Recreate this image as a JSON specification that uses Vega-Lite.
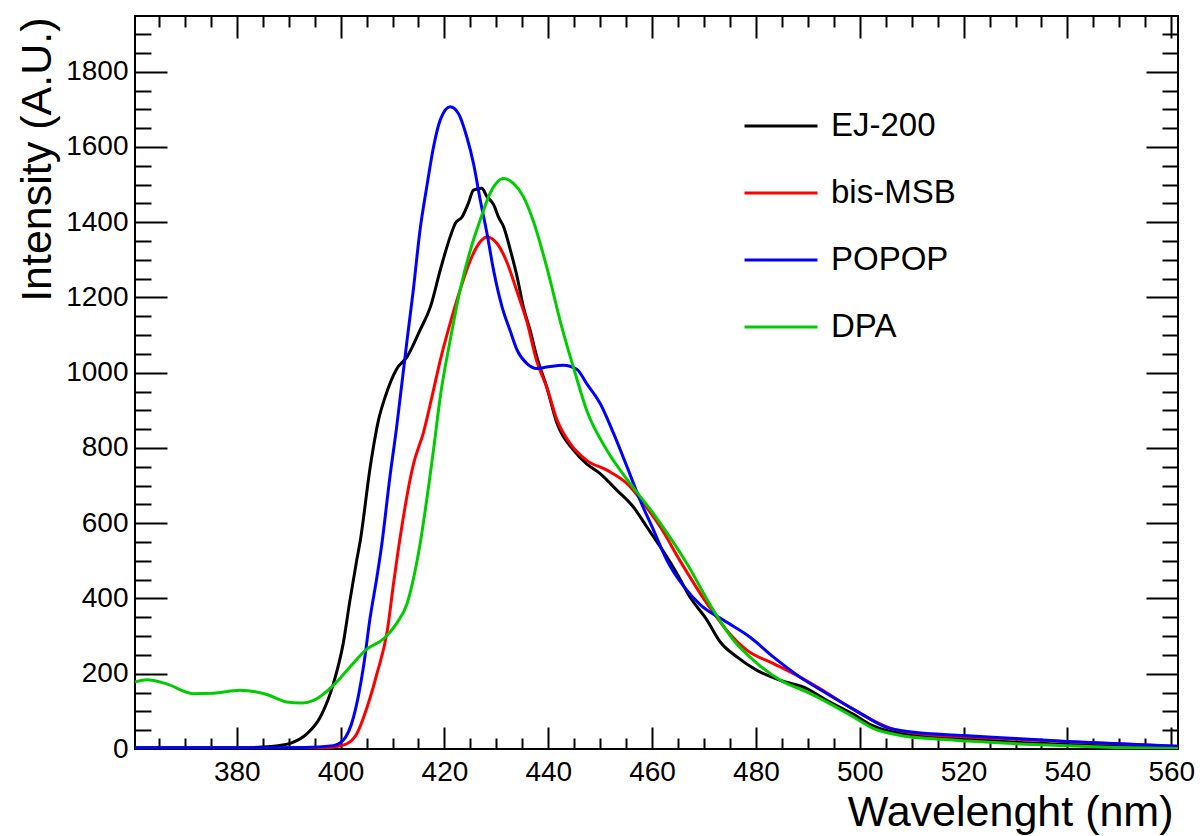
{
  "$schema": "https://vega.github.io/schema/vega-lite/v6.json",
  "width": 1043,
  "height": 733,
  "autosize": {"type": "none"},
  "padding": {"left": 135, "top": 16, "right": 22, "bottom": 87},
  "background": "white",
  "config": {
    "font": "Liberation Sans",
    "view": {"stroke": "black", "strokeWidth": 2},
    "axis": {"domain": false, "grid": false, "labelFont": "Liberation Sans", "titleFont": "Liberation Sans", "labelColor": "black", "titleColor": "black", "tickColor": "black", "titleFontWeight": "normal"},
    "legend": {"labelFont": "Liberation Sans"}
  },
  "datasets": {
    "spectra": [
      {"sample": "EJ-200", "wavelength": 360.4, "intensity": 3},
      {"sample": "EJ-200", "wavelength": 370, "intensity": 3},
      {"sample": "EJ-200", "wavelength": 380, "intensity": 3},
      {"sample": "EJ-200", "wavelength": 385, "intensity": 5},
      {"sample": "EJ-200", "wavelength": 388, "intensity": 9},
      {"sample": "EJ-200", "wavelength": 390.3, "intensity": 15},
      {"sample": "EJ-200", "wavelength": 393.5, "intensity": 40},
      {"sample": "EJ-200", "wavelength": 396.1, "intensity": 85},
      {"sample": "EJ-200", "wavelength": 398.6, "intensity": 173},
      {"sample": "EJ-200", "wavelength": 400.5, "intensity": 280},
      {"sample": "EJ-200", "wavelength": 401.8, "intensity": 395},
      {"sample": "EJ-200", "wavelength": 403.1, "intensity": 501},
      {"sample": "EJ-200", "wavelength": 403.8, "intensity": 554},
      {"sample": "EJ-200", "wavelength": 405.7, "intensity": 749},
      {"sample": "EJ-200", "wavelength": 407.3, "intensity": 874},
      {"sample": "EJ-200", "wavelength": 408.6, "intensity": 936},
      {"sample": "EJ-200", "wavelength": 410.8, "intensity": 1010},
      {"sample": "EJ-200", "wavelength": 412.8, "intensity": 1042},
      {"sample": "EJ-200", "wavelength": 415.3, "intensity": 1113},
      {"sample": "EJ-200", "wavelength": 417.3, "intensity": 1175},
      {"sample": "EJ-200", "wavelength": 419.2, "intensity": 1273},
      {"sample": "EJ-200", "wavelength": 421.1, "intensity": 1361},
      {"sample": "EJ-200", "wavelength": 422.1, "intensity": 1397},
      {"sample": "EJ-200", "wavelength": 423.4, "intensity": 1414},
      {"sample": "EJ-200", "wavelength": 424.6, "intensity": 1450},
      {"sample": "EJ-200", "wavelength": 425.6, "intensity": 1485},
      {"sample": "EJ-200", "wavelength": 427.2, "intensity": 1490},
      {"sample": "EJ-200", "wavelength": 428.2, "intensity": 1468},
      {"sample": "EJ-200", "wavelength": 429.5, "intensity": 1446},
      {"sample": "EJ-200", "wavelength": 430.4, "intensity": 1414},
      {"sample": "EJ-200", "wavelength": 431.4, "intensity": 1388},
      {"sample": "EJ-200", "wavelength": 432.7, "intensity": 1326},
      {"sample": "EJ-200", "wavelength": 434.0, "intensity": 1255},
      {"sample": "EJ-200", "wavelength": 435.2, "intensity": 1175},
      {"sample": "EJ-200", "wavelength": 436.5, "intensity": 1113},
      {"sample": "EJ-200", "wavelength": 437.8, "intensity": 1042},
      {"sample": "EJ-200", "wavelength": 439.7, "intensity": 962},
      {"sample": "EJ-200", "wavelength": 441.7, "intensity": 865},
      {"sample": "EJ-200", "wavelength": 444.9, "intensity": 794},
      {"sample": "EJ-200", "wavelength": 447.4, "intensity": 758},
      {"sample": "EJ-200", "wavelength": 450.0, "intensity": 732},
      {"sample": "EJ-200", "wavelength": 453.2, "intensity": 688},
      {"sample": "EJ-200", "wavelength": 456.4, "intensity": 643},
      {"sample": "EJ-200", "wavelength": 459.0, "intensity": 590},
      {"sample": "EJ-200", "wavelength": 461.6, "intensity": 537},
      {"sample": "EJ-200", "wavelength": 464.8, "intensity": 466},
      {"sample": "EJ-200", "wavelength": 467.3, "intensity": 404},
      {"sample": "EJ-200", "wavelength": 470.6, "intensity": 342},
      {"sample": "EJ-200", "wavelength": 473.1, "intensity": 285},
      {"sample": "EJ-200", "wavelength": 476.4, "intensity": 244},
      {"sample": "EJ-200", "wavelength": 480.2, "intensity": 209},
      {"sample": "EJ-200", "wavelength": 484.8, "intensity": 182},
      {"sample": "EJ-200", "wavelength": 489.9, "intensity": 160},
      {"sample": "EJ-200", "wavelength": 493.7, "intensity": 129},
      {"sample": "EJ-200", "wavelength": 498.8, "intensity": 92},
      {"sample": "EJ-200", "wavelength": 502, "intensity": 65},
      {"sample": "EJ-200", "wavelength": 505, "intensity": 50},
      {"sample": "EJ-200", "wavelength": 510, "intensity": 38},
      {"sample": "EJ-200", "wavelength": 520, "intensity": 27},
      {"sample": "EJ-200", "wavelength": 530, "intensity": 18},
      {"sample": "EJ-200", "wavelength": 540, "intensity": 12},
      {"sample": "EJ-200", "wavelength": 550, "intensity": 7},
      {"sample": "EJ-200", "wavelength": 561.3, "intensity": 3},

      {"sample": "bis-MSB", "wavelength": 360.4, "intensity": 0},
      {"sample": "bis-MSB", "wavelength": 380, "intensity": 0},
      {"sample": "bis-MSB", "wavelength": 395, "intensity": 1},
      {"sample": "bis-MSB", "wavelength": 398.6, "intensity": 5},
      {"sample": "bis-MSB", "wavelength": 401.2, "intensity": 14},
      {"sample": "bis-MSB", "wavelength": 403.1, "intensity": 40},
      {"sample": "bis-MSB", "wavelength": 405.1, "intensity": 111},
      {"sample": "bis-MSB", "wavelength": 407.0, "intensity": 200},
      {"sample": "bis-MSB", "wavelength": 409.0, "intensity": 315},
      {"sample": "bis-MSB", "wavelength": 410.2, "intensity": 440},
      {"sample": "bis-MSB", "wavelength": 411.5, "intensity": 565},
      {"sample": "bis-MSB", "wavelength": 414.0, "intensity": 755},
      {"sample": "bis-MSB", "wavelength": 416.0, "intensity": 843},
      {"sample": "bis-MSB", "wavelength": 417.6, "intensity": 936},
      {"sample": "bis-MSB", "wavelength": 419.2, "intensity": 1033},
      {"sample": "bis-MSB", "wavelength": 421.1, "intensity": 1131},
      {"sample": "bis-MSB", "wavelength": 423.0, "intensity": 1219},
      {"sample": "bis-MSB", "wavelength": 425.0, "intensity": 1299},
      {"sample": "bis-MSB", "wavelength": 426.9, "intensity": 1348},
      {"sample": "bis-MSB", "wavelength": 428.2, "intensity": 1361},
      {"sample": "bis-MSB", "wavelength": 430.1, "intensity": 1344},
      {"sample": "bis-MSB", "wavelength": 432.0, "intensity": 1295},
      {"sample": "bis-MSB", "wavelength": 434.0, "intensity": 1215},
      {"sample": "bis-MSB", "wavelength": 435.9, "intensity": 1135},
      {"sample": "bis-MSB", "wavelength": 437.8, "intensity": 1030},
      {"sample": "bis-MSB", "wavelength": 439.7, "intensity": 962},
      {"sample": "bis-MSB", "wavelength": 441.7, "intensity": 874},
      {"sample": "bis-MSB", "wavelength": 444.2, "intensity": 812},
      {"sample": "bis-MSB", "wavelength": 447.4, "intensity": 767},
      {"sample": "bis-MSB", "wavelength": 451.3, "intensity": 741},
      {"sample": "bis-MSB", "wavelength": 455.2, "intensity": 705},
      {"sample": "bis-MSB", "wavelength": 458.4, "intensity": 652},
      {"sample": "bis-MSB", "wavelength": 461.6, "intensity": 590},
      {"sample": "bis-MSB", "wavelength": 465.4, "intensity": 500},
      {"sample": "bis-MSB", "wavelength": 470.6, "intensity": 386},
      {"sample": "bis-MSB", "wavelength": 474.4, "intensity": 315},
      {"sample": "bis-MSB", "wavelength": 478.3, "intensity": 262},
      {"sample": "bis-MSB", "wavelength": 483.4, "intensity": 227},
      {"sample": "bis-MSB", "wavelength": 488.5, "intensity": 191},
      {"sample": "bis-MSB", "wavelength": 492.4, "intensity": 160},
      {"sample": "bis-MSB", "wavelength": 497.6, "intensity": 115},
      {"sample": "bis-MSB", "wavelength": 502.7, "intensity": 75},
      {"sample": "bis-MSB", "wavelength": 506.0, "intensity": 55},
      {"sample": "bis-MSB", "wavelength": 511.0, "intensity": 41},
      {"sample": "bis-MSB", "wavelength": 520.7, "intensity": 32},
      {"sample": "bis-MSB", "wavelength": 533.5, "intensity": 24},
      {"sample": "bis-MSB", "wavelength": 540, "intensity": 19},
      {"sample": "bis-MSB", "wavelength": 549.6, "intensity": 14},
      {"sample": "bis-MSB", "wavelength": 561.3, "intensity": 7},

      {"sample": "POPOP", "wavelength": 360.4, "intensity": 3},
      {"sample": "POPOP", "wavelength": 380, "intensity": 3},
      {"sample": "POPOP", "wavelength": 393, "intensity": 4},
      {"sample": "POPOP", "wavelength": 398.6, "intensity": 9},
      {"sample": "POPOP", "wavelength": 400.5, "intensity": 23},
      {"sample": "POPOP", "wavelength": 402.5, "intensity": 85},
      {"sample": "POPOP", "wavelength": 404.4, "intensity": 218},
      {"sample": "POPOP", "wavelength": 405.7, "intensity": 350},
      {"sample": "POPOP", "wavelength": 407.0, "intensity": 457},
      {"sample": "POPOP", "wavelength": 407.9, "intensity": 540},
      {"sample": "POPOP", "wavelength": 409.5, "intensity": 723},
      {"sample": "POPOP", "wavelength": 410.8, "intensity": 856},
      {"sample": "POPOP", "wavelength": 411.5, "intensity": 936},
      {"sample": "POPOP", "wavelength": 412.8, "intensity": 1086},
      {"sample": "POPOP", "wavelength": 414.0, "intensity": 1219},
      {"sample": "POPOP", "wavelength": 415.3, "intensity": 1379},
      {"sample": "POPOP", "wavelength": 416.6, "intensity": 1494},
      {"sample": "POPOP", "wavelength": 417.9, "intensity": 1600},
      {"sample": "POPOP", "wavelength": 419.2, "intensity": 1672},
      {"sample": "POPOP", "wavelength": 421.1, "intensity": 1707},
      {"sample": "POPOP", "wavelength": 422.7, "intensity": 1689},
      {"sample": "POPOP", "wavelength": 424.3, "intensity": 1627},
      {"sample": "POPOP", "wavelength": 425.6, "intensity": 1556},
      {"sample": "POPOP", "wavelength": 426.9, "intensity": 1459},
      {"sample": "POPOP", "wavelength": 428.2, "intensity": 1370},
      {"sample": "POPOP", "wavelength": 429.5, "intensity": 1270},
      {"sample": "POPOP", "wavelength": 431.1, "intensity": 1175},
      {"sample": "POPOP", "wavelength": 432.7, "intensity": 1110},
      {"sample": "POPOP", "wavelength": 434.0, "intensity": 1060},
      {"sample": "POPOP", "wavelength": 435.9, "intensity": 1024},
      {"sample": "POPOP", "wavelength": 437.8, "intensity": 1011},
      {"sample": "POPOP", "wavelength": 439.7, "intensity": 1015},
      {"sample": "POPOP", "wavelength": 442.9, "intensity": 1020},
      {"sample": "POPOP", "wavelength": 445.5, "intensity": 1009},
      {"sample": "POPOP", "wavelength": 447.4, "intensity": 971},
      {"sample": "POPOP", "wavelength": 450.0, "intensity": 918},
      {"sample": "POPOP", "wavelength": 452.6, "intensity": 838},
      {"sample": "POPOP", "wavelength": 455.2, "intensity": 749},
      {"sample": "POPOP", "wavelength": 457.7, "intensity": 661},
      {"sample": "POPOP", "wavelength": 460.3, "intensity": 581},
      {"sample": "POPOP", "wavelength": 462.9, "intensity": 500},
      {"sample": "POPOP", "wavelength": 466.1, "intensity": 432},
      {"sample": "POPOP", "wavelength": 469.3, "intensity": 383},
      {"sample": "POPOP", "wavelength": 473.8, "intensity": 342},
      {"sample": "POPOP", "wavelength": 478.9, "intensity": 297},
      {"sample": "POPOP", "wavelength": 483.4, "intensity": 244},
      {"sample": "POPOP", "wavelength": 488.5, "intensity": 191},
      {"sample": "POPOP", "wavelength": 493.7, "intensity": 147},
      {"sample": "POPOP", "wavelength": 499.5, "intensity": 100},
      {"sample": "POPOP", "wavelength": 505, "intensity": 58},
      {"sample": "POPOP", "wavelength": 510, "intensity": 45},
      {"sample": "POPOP", "wavelength": 520, "intensity": 36},
      {"sample": "POPOP", "wavelength": 530, "intensity": 28},
      {"sample": "POPOP", "wavelength": 540, "intensity": 20},
      {"sample": "POPOP", "wavelength": 550, "intensity": 14},
      {"sample": "POPOP", "wavelength": 561.3, "intensity": 7},

      {"sample": "DPA", "wavelength": 360.4, "intensity": 178},
      {"sample": "DPA", "wavelength": 362.7, "intensity": 184},
      {"sample": "DPA", "wavelength": 366.5, "intensity": 173},
      {"sample": "DPA", "wavelength": 371.6, "intensity": 147},
      {"sample": "DPA", "wavelength": 375.5, "intensity": 148},
      {"sample": "DPA", "wavelength": 380.6, "intensity": 156},
      {"sample": "DPA", "wavelength": 385.8, "intensity": 145},
      {"sample": "DPA", "wavelength": 389.6, "intensity": 125},
      {"sample": "DPA", "wavelength": 392.5, "intensity": 122},
      {"sample": "DPA", "wavelength": 394.8, "intensity": 129},
      {"sample": "DPA", "wavelength": 398.6, "intensity": 169},
      {"sample": "DPA", "wavelength": 401.8, "intensity": 218},
      {"sample": "DPA", "wavelength": 405.1, "intensity": 266},
      {"sample": "DPA", "wavelength": 408.3, "intensity": 293},
      {"sample": "DPA", "wavelength": 410.8, "intensity": 334},
      {"sample": "DPA", "wavelength": 412.8, "intensity": 386},
      {"sample": "DPA", "wavelength": 415.0, "intensity": 520},
      {"sample": "DPA", "wavelength": 417.9, "intensity": 795},
      {"sample": "DPA", "wavelength": 419.2, "intensity": 936},
      {"sample": "DPA", "wavelength": 421.1, "intensity": 1086},
      {"sample": "DPA", "wavelength": 423.0, "intensity": 1219},
      {"sample": "DPA", "wavelength": 425.0, "intensity": 1326},
      {"sample": "DPA", "wavelength": 426.9, "intensity": 1406},
      {"sample": "DPA", "wavelength": 428.8, "intensity": 1477},
      {"sample": "DPA", "wavelength": 431.4, "intensity": 1516},
      {"sample": "DPA", "wavelength": 433.3, "intensity": 1503},
      {"sample": "DPA", "wavelength": 435.2, "intensity": 1468},
      {"sample": "DPA", "wavelength": 437.2, "intensity": 1400},
      {"sample": "DPA", "wavelength": 439.7, "intensity": 1281},
      {"sample": "DPA", "wavelength": 442.6, "intensity": 1122},
      {"sample": "DPA", "wavelength": 445.2, "intensity": 998},
      {"sample": "DPA", "wavelength": 447.4, "intensity": 900},
      {"sample": "DPA", "wavelength": 451.3, "intensity": 794},
      {"sample": "DPA", "wavelength": 455.8, "intensity": 705},
      {"sample": "DPA", "wavelength": 460.3, "intensity": 625},
      {"sample": "DPA", "wavelength": 464.3, "intensity": 545},
      {"sample": "DPA", "wavelength": 466.7, "intensity": 493},
      {"sample": "DPA", "wavelength": 471.8, "intensity": 369},
      {"sample": "DPA", "wavelength": 475.7, "intensity": 289},
      {"sample": "DPA", "wavelength": 479.6, "intensity": 235},
      {"sample": "DPA", "wavelength": 484.8, "intensity": 182},
      {"sample": "DPA", "wavelength": 489.9, "intensity": 151},
      {"sample": "DPA", "wavelength": 494.3, "intensity": 120},
      {"sample": "DPA", "wavelength": 498.8, "intensity": 85},
      {"sample": "DPA", "wavelength": 502.7, "intensity": 54},
      {"sample": "DPA", "wavelength": 507.8, "intensity": 36},
      {"sample": "DPA", "wavelength": 514.2, "intensity": 27},
      {"sample": "DPA", "wavelength": 520.7, "intensity": 21},
      {"sample": "DPA", "wavelength": 533.5, "intensity": 12},
      {"sample": "DPA", "wavelength": 546.4, "intensity": 5},
      {"sample": "DPA", "wavelength": 561.3, "intensity": 1}
    ],
    "anchor": [{"wavelength": 400, "intensity": 0}]
  },
  "resolve": {"axis": {"x": "independent", "y": "independent"}},
  "layer": [
    {
      "data": {"name": "spectra"},
      "mark": {"type": "line", "strokeWidth": 3, "interpolate": "monotone", "clip": true},
      "encoding": {
        "x": {"field": "wavelength", "type": "quantitative",
              "scale": {"domain": [360.4, 561.3], "nice": false, "zero": false},
              "axis": {"orient": "bottom", "title": "Wavelenght (nm)", "values": [380, 400, 420, 440, 460, 480, 500, 520, 540, 560], "format": "d",
                       "ticks": false, "tickSize": 0, "labelPadding": 9, "labelFontSize": 28, "titleFontSize": 43,
                       "titleAlign": "right", "titleAnchor": "end", "titleBaseline": "alphabetic", "titleX": 1038, "titleY": 76}},
        "y": {"field": "intensity", "type": "quantitative",
              "scale": {"domain": [0, 1948], "nice": false},
              "axis": {"orient": "left", "title": "Intensity (A.U.)", "values": [0, 200, 400, 600, 800, 1000, 1200, 1400, 1600, 1800], "format": "d",
                       "ticks": false, "tickSize": 0, "labelPadding": 7, "labelFontSize": 28, "titleFontSize": 43,
                       "titleAngle": -90, "titleAlign": "right", "titleAnchor": "end", "titleBaseline": "alphabetic", "titleX": -85, "titleY": 1}},
        "color": {"field": "sample", "type": "nominal",
                  "scale": {"domain": ["EJ-200", "bis-MSB", "POPOP", "DPA"], "range": ["#000000", "#ff0000", "#0000ff", "#00cc00"]},
                  "sort": ["EJ-200", "bis-MSB", "POPOP", "DPA"],
                  "legend": {"orient": "none", "legendX": 608, "legendY": 72, "title": null, "symbolType": "stroke", "symbolSize": 5329,
                             "symbolStrokeWidth": 3, "labelFontSize": 33, "labelOffset": 12, "rowPadding": 12, "padding": 0, "labelColor": "black"}}
      }
    },
    {
      "data": {"name": "anchor"},
      "mark": {"type": "point", "opacity": 0},
      "encoding": {
        "x": {"field": "wavelength", "type": "quantitative", "axis": {"orient": "bottom", "title": null, "labels": false, "values": [380, 400, 420, 440, 460, 480, 500, 520, 540, 560], "tickSize": -22, "tickWidth": 2}},
        "y": {"field": "intensity", "type": "quantitative", "axis": {"orient": "left", "title": null, "labels": false, "values": [200, 400, 600, 800, 1000, 1200, 1400, 1600, 1800], "tickSize": -32, "tickWidth": 2}}
      }
    },
    {
      "data": {"name": "anchor"},
      "mark": {"type": "point", "opacity": 0},
      "encoding": {
        "x": {"field": "wavelength", "type": "quantitative", "axis": {"orient": "bottom", "title": null, "labels": false, "values": [365, 370, 375, 385, 390, 395, 405, 410, 415, 425, 430, 435, 445, 450, 455, 465, 470, 475, 485, 490, 495, 505, 510, 515, 525, 530, 535, 545, 550, 555], "tickSize": -11, "tickWidth": 2}},
        "y": {"field": "intensity", "type": "quantitative", "axis": {"orient": "left", "title": null, "labels": false, "values": [50, 100, 150, 250, 300, 350, 450, 500, 550, 650, 700, 750, 850, 900, 950, 1050, 1100, 1150, 1250, 1300, 1350, 1450, 1500, 1550, 1650, 1700, 1750, 1850, 1900], "tickSize": -16, "tickWidth": 2}}
      }
    },
    {
      "data": {"name": "anchor"},
      "mark": {"type": "point", "opacity": 0},
      "encoding": {
        "x": {"field": "wavelength", "type": "quantitative", "axis": {"orient": "top", "title": null, "labels": false, "values": [380, 400, 420, 440, 460, 480, 500, 520, 540, 560], "tickSize": -22, "tickWidth": 2}},
        "y": {"field": "intensity", "type": "quantitative", "axis": {"orient": "right", "title": null, "labels": false, "values": [200, 400, 600, 800, 1000, 1200, 1400, 1600, 1800], "tickSize": -32, "tickWidth": 2}}
      }
    },
    {
      "data": {"name": "anchor"},
      "mark": {"type": "point", "opacity": 0},
      "encoding": {
        "x": {"field": "wavelength", "type": "quantitative", "axis": {"orient": "top", "title": null, "labels": false, "values": [365, 370, 375, 385, 390, 395, 405, 410, 415, 425, 430, 435, 445, 450, 455, 465, 470, 475, 485, 490, 495, 505, 510, 515, 525, 530, 535, 545, 550, 555], "tickSize": -11, "tickWidth": 2}},
        "y": {"field": "intensity", "type": "quantitative", "axis": {"orient": "right", "title": null, "labels": false, "values": [50, 100, 150, 250, 300, 350, 450, 500, 550, 650, 700, 750, 850, 900, 950, 1050, 1100, 1150, 1250, 1300, 1350, 1450, 1500, 1550, 1650, 1700, 1750, 1850, 1900], "tickSize": -16, "tickWidth": 2}}
      }
    }
  ]
}
